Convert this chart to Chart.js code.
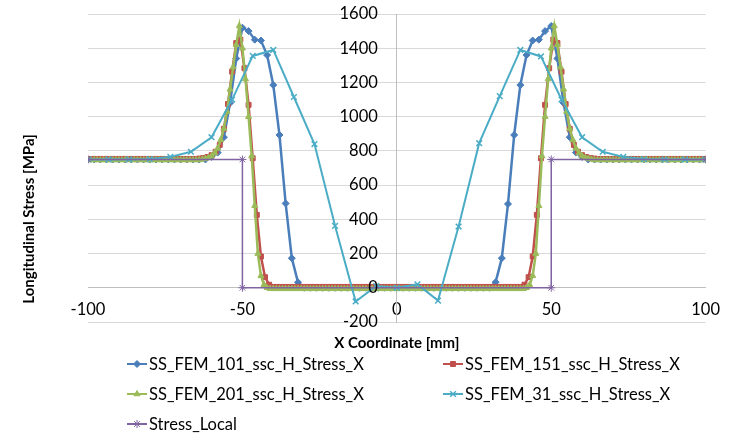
<!DOCTYPE html>
<html>
<head>
<meta charset="utf-8">
<script src="https://cdn.jsdelivr.net/npm/chart.js"></script>
<style>
  html, body { margin: 0; padding: 0; background: #fff; }
  #wrap { width: 732px; height: 434px; }
</style>
</head>
<body>
<div id="wrap"><canvas id="myChart" width="732" height="434"></canvas></div>
<script>
// stresses along x (-100..100 mm) for each mesh density
var labels = ['SS_FEM_101_ssc_H_Stress_X', 'SS_FEM_151_ssc_H_Stress_X', 'SS_FEM_201_ssc_H_Stress_X', 'SS_FEM_31_ssc_H_Stress_X', 'Stress_Local'];

var fem101 = [
  750,750,750,750,750,750,750,750,750,750,
  750,750,750,750,750,750,750,750,750,750,
  765,790,880,1080,1340,1520,1500,1450,1445,1360,1185,893,493,173,32,
  0,0,0,0,0,0,0,0,0,0,
  0,0,0,0,0,0,0,0,0,0,
  0,0,0,0,0,0,0,0,0,0,
  0,
  33,173,490,893,1185,1360,1445,1450,1500,1530,1340,1080,880,790,765,
  750,750,750,750,750,750,750,750,750,750,
  750,750,750,750,750,750,750,750,750,750
];

var fem151 = [
  753,753,753,753,753,753,753,753,753,
  753,753,753,753,753,753,753,753,753,
  753,753,753,753,753,753,753,753,753,
  755,758,764,775,795,835,929,1074,1263,1430,1450,1283,1069,757,426,183,62,
  18,
  5,5,5,5,5,5,5,5,5,5,
  5,5,5,5,5,5,5,5,5,5,
  5,5,5,5,5,5,5,5,5,5,
  5,5,5,5,5,5,5,5,5,5,
  5,5,5,5,5,5,5,5,5,5,
  5,5,5,5,5,5,5,5,5,5,
  5,
  18,
  62,183,426,757,1069,1283,1450,1430,1263,1074,929,835,795,775,764,758,755,
  753,753,753,753,753,753,753,753,753,
  753,753,753,753,753,753,753,753,753,
  753,753,753,753,753,753,753,753,753
];

var fem201 = [
  747,747,747,747,747,747,747,747,747,747,
  747,747,747,747,747,747,747,747,747,747,
  747,747,747,747,747,747,747,747,747,747,
  747,747,747,747,747,747,747,
  751,755,760,770,787,815,865,930,1030,1160,1290,1420,1530,1400,1220,1000,770,480,200,70,18,0,
  -6,-6,-6,-6,-6,-6,-6,-6,-6,-6,
  -6,-6,-6,-6,-6,-6,-6,-6,-6,-6,
  -6,-6,-6,-6,-6,-6,-6,-6,-6,-6,
  -6,-6,-6,-6,-6,-6,-6,-6,-6,-6,
  -6,-6,-6,-6,-6,-6,-6,-6,-6,-6,
  -6,-6,-6,-6,-6,-6,-6,-6,-6,-6,
  -6,-6,-6,-6,-6,-6,-6,-6,-6,-6,
  -6,-6,-6,-6,-6,-6,-6,-6,-6,-6,
  -6,-6,-6,
  0,18,70,200,480,770,1000,1220,1400,1530,1420,1290,1160,1030,930,865,815,787,770,760,755,751,
  747,747,747,747,747,747,747,747,747,747,
  747,747,747,747,747,747,747,747,747,747,
  747,747,747,747,747,747,747,747,747,747,
  747,747,747,747,747,747,747
];

var fem31 = [750,750,750,752,765,795,880,1100,1355,1390,1115,840,362,-80,10,0,20,-75,358,845,1120,1390,1352,1100,880,795,765,752,750,750,750];

var localX = [-100, -50, -50, 50, 50, 100];
var localY = [750, 750, 0, 0, 750, 750];

// evenly spaced node positions of a mesh
function meshX(n) {
  var xs = [];
  for (var i = 0; i < n; i++) xs.push(-100 + 200 * i / (n - 1));
  return xs;
}
function pts(xs, ys) {
  return ys.map(function (v, i) { return { x: xs[i], y: v }; });
}

var FONT = 'Lato';

var annotate = {
  id: 'annotate',
  afterDraw: function (chart) {
    var c = chart.ctx;
    var xs = chart.scales.x, ys = chart.scales.y;
    var x0 = xs.getPixelForValue(0);
    c.save();
    c.fillStyle = '#000';
    c.textBaseline = 'middle';

    // y tick labels sit left of the axis crossing at x = 0
    c.textAlign = 'right';
    c.font = '16.5px ' + FONT;
    ys.ticks.forEach(function (t) {
      c.fillText(String(t.value), x0 - 19, ys.getPixelForValue(t.value));
    });

    c.textAlign = 'center';
    c.font = 'bold 15px ' + FONT;
    c.fillText('X Coordinate [mm]', x0, 343);
    c.save();
    c.translate(29, 219);
    c.rotate(-Math.PI / 2);
    c.fillText('Longitudinal Stress [MPa]', 0, 0);
    c.restore();

    // legend, two columns
    var spots = [[127, 364], [443, 364], [127, 394], [443, 394], [127, 424]];
    c.font = '16.5px ' + FONT;
    c.textAlign = 'left';
    chart.data.datasets.forEach(function (ds, i) {
      var x = spots[i][0], y = spots[i][1];
      c.strokeStyle = ds.borderColor;
      c.fillStyle = ds.backgroundColor;
      c.lineWidth = 2;
      c.beginPath();
      c.moveTo(x, y);
      c.lineTo(x + 20, y);
      c.stroke();
      c.lineWidth = ds.pointBorderWidth;
      Chart.helpers.drawPoint(c, { pointStyle: ds.pointStyle, radius: ds.pointRadius, rotation: 0, borderWidth: ds.pointBorderWidth }, x + 10, y);
      c.fillStyle = '#000';
      c.fillText(ds.label, x + 22, y + 1);
    });
    c.restore();
  }
};

var ctx = document.getElementById('myChart').getContext('2d');
var myChart = new Chart(ctx, {
  type: 'line',
  data: {
    datasets: [{
      label: labels[0],
      data: pts(meshX(101), fem101),
      borderColor: '#4a7ebb', backgroundColor: '#4a7ebb',
      borderWidth: 2.5, pointStyle: 'rectRot', pointRadius: 3.5, pointBorderWidth: 1,
      order: 5
    }, {
      label: labels[1],
      data: pts(meshX(151), fem151),
      borderColor: '#c0504d', backgroundColor: '#c0504d',
      borderWidth: 2.5, pointStyle: 'rect', pointRadius: 3.5, pointBorderWidth: 1,
      order: 4
    }, {
      label: labels[2],
      data: pts(meshX(201), fem201),
      borderColor: '#9bbb59', backgroundColor: '#9bbb59',
      borderWidth: 2.5, pointStyle: 'triangle', pointRadius: 3.5, pointBorderWidth: 1,
      order: 3
    }, {
      label: labels[3],
      data: pts(meshX(31), fem31),
      borderColor: '#4bacc6', backgroundColor: '#4bacc6',
      borderWidth: 2, pointStyle: 'crossRot', pointRadius: 4, pointBorderWidth: 1.5,
      order: 2
    }, {
      label: labels[4],
      data: pts(localX, localY),
      borderColor: '#8064a2', backgroundColor: '#8064a2',
      borderWidth: 1.5, pointStyle: 'star', pointRadius: 4, pointBorderWidth: 1,
      order: 1
    }]
  },
  options: {
    responsive: false,
    animation: false,
    layout: { padding: { left: 88, right: 18, top: 14, bottom: 112 } },
    plugins: { legend: { display: false }, tooltip: { enabled: false } },
    elements: { line: { tension: 0 } },
    scales: {
      x: {
        type: 'linear', min: -100, max: 100, position: { y: 0 },
        ticks: { stepSize: 50, padding: 12, color: '#000', maxRotation: 0, autoSkip: false, font: { family: FONT, size: 16.5 } },
        grid: { display: false, drawTicks: false },
        border: { display: true, color: '#bfbfbf' }
      },
      y: {
        type: 'linear', min: -200, max: 1600, position: { x: 0 },
        ticks: { stepSize: 200, display: false },
        grid: { color: '#d9d9d9', drawTicks: false },
        border: { display: true, color: '#bfbfbf' }
      }
    }
  },
  plugins: [annotate]
});
</script>
</body>
</html>
